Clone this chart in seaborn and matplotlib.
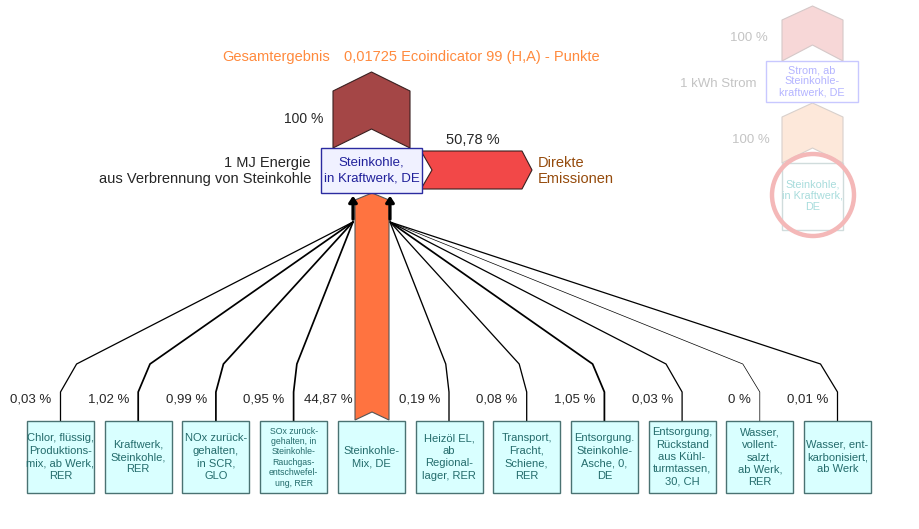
import matplotlib
matplotlib.use("Agg")
import matplotlib.pyplot as plt
from matplotlib.patches import Polygon, Rectangle, Circle
import seaborn as sns
import pandas as pd

# data
total_score = 0.01725
main_label = "Steinkohle,\nin Kraftwerk, DE"
main_pct = 100
direct_pct = 50.78
input_labels = [
    "Chlor, flüssig,\nProduktions-\nmix, ab Werk,\nRER",
    "Kraftwerk,\nSteinkohle,\nRER",
    "NOx zurück-\ngehalten,\nin SCR,\nGLO",
    "SOx zurück-\ngehalten, in\nSteinkohle-\nRauchgas-\nentschwefel-\nung, RER",
    "Steinkohle-\nMix, DE",
    "Heizöl EL,\nab\nRegional-\nlager, RER",
    "Transport,\nFracht,\nSchiene,\nRER",
    "Entsorgung.\nSteinkohle-\nAsche, 0,\nDE",
    "Entsorgung,\nRückstand\naus Kühl-\nturmtassen,\n30, CH",
    "Wasser,\nvollent-\nsalzt,\nab Werk,\nRER",
    "Wasser, ent-\nkarbonisiert,\nab Werk",
]
input_pct = [0.03, 1.02, 0.99, 0.95, 44.87, 0.19, 0.08, 1.05, 0.03, 0, 0.01]
main_input = 4  # Steinkohle-Mix, drawn as the big arrow


def fmt(v):
    return f"{v:g}".replace(".", ",") + " %"


sns.set_theme(style="white")
plt.rcParams["font.family"] = ["Liberation Sans", "DejaVu Sans"]

fig = plt.figure(figsize=(9.19, 5.29), dpi=100)
ax = fig.add_axes([0, 0, 1, 1])
ax.set_xlim(0, 919)
ax.set_ylim(529, 0)
ax.axis("off")

# title
ax.text(222, 57, "Gesamtergebnis", color="#FF8A3D", fontsize=10.5, va="center")
ax.text(344, 57, f"{total_score:g}".replace(".", ",") + " Ecoindicator 99 (H,A) - Punkte",
        color="#FF8A3D", fontsize=10.5, va="center")


def chevron(l, r, tip, sh, bot, notch, **kw):
    cx = (l + r) / 2
    return Polygon([(l, sh), (cx, tip), (r, sh), (r, bot), (cx, notch), (l, bot)],
                   closed=True, **kw)


# output arrow on top of the main process
ax.add_patch(chevron(333, 410, 72, 91, 148, 129, facecolor="#A44646",
                     edgecolor="#3a2020", lw=0.8, zorder=2))
ax.text(323, 119, fmt(main_pct), ha="right", va="center", fontsize=10)

# direct emissions arrow
ax.add_patch(Polygon([(421, 151), (522, 151), (532, 170), (522, 189), (421, 189), (432, 170)],
                     closed=True, facecolor="#F24848", edgecolor="#3a2020", lw=0.8, zorder=2))
ax.text(473, 140, fmt(direct_pct), ha="center", va="center", fontsize=10.5)
ax.text(538, 171, "Direkte\nEmissionen", color="#954B0C", fontsize=10.5, va="center",
        linespacing=1.25)

# main process box
ax.add_patch(Rectangle((321, 148), 101, 45, facecolor="#F0F1FF", edgecolor="#2B2BA0",
                       lw=1, zorder=3))
ax.text(371.5, 170.5, main_label, color="#20209A", fontsize=9.5, ha="center", va="center",
        linespacing=1.35, zorder=4)
ax.text(311, 171, "1 MJ Energie\naus Verbrennung von Steinkohle", ha="right", va="center",
        fontsize=10.5, linespacing=1.25)

# input boxes
box_w, box_top, box_bot = 67, 421, 493
step = 77.7
hub_l, hub_r = (353, 222), (390, 222)
rows = []
for i, (lab, p) in enumerate(zip(input_labels, input_pct)):
    x0 = 27 + step * i
    cx = x0 + box_w / 2
    ax.add_patch(Rectangle((x0, box_top), box_w, box_bot - box_top, facecolor="#D9FFFF",
                           edgecolor="#4A7272", lw=1, zorder=3))
    small = lab.count("\n") >= 5 and lab.startswith("SOx")
    fs = 6.3 if small else 8
    ax.text(cx, (box_top + box_bot) / 2, lab, color="#246C6C", fontsize=fs, ha="center",
            va="center", linespacing=1.2 if small else 1.3, zorder=4)
    if i == main_input:
        ax.text(353, 400, fmt(p), ha="right", va="center", fontsize=9.5)
        continue
    ax.text(cx - 9, 400, fmt(p), ha="right", va="center", fontsize=9.5)
    hx, hy = hub_l if i < main_input else hub_r
    dx = max(-17, min(17, 0.055 * (hx - cx)))
    pts = [(cx, box_top), (cx, 392), (cx + dx, 364), (hx, hy)]
    for k, (px, py) in enumerate(pts):
        rows.append({"box": i, "order": k, "x": px, "y": py, "pct": p})

links = pd.DataFrame(rows)
for i, grp in links.groupby("box"):
    p = grp["pct"].iloc[0]
    lw = 0.5 if p == 0 else 0.9 + 0.35 * min(p, 1.1)
    sns.lineplot(data=grp, x="x", y="y", sort=False, estimator=None, color="black",
                 lw=lw, ax=ax, legend=False, zorder=1)

# main input arrow (Steinkohle-Mix)
ax.add_patch(chevron(355, 389, 193, 200, 420, 412, facecolor="#FF7340",
                     edgecolor="#555555", lw=0.8, zorder=2))

# collector arrows into the main box
for hx, hy in (hub_l, hub_r):
    ax.annotate("", xy=(hx, 193), xytext=(hx, hy),
                arrowprops=dict(arrowstyle="-|>,head_width=0.2,head_length=0.3",
                                color="black", lw=2.3), zorder=3)

ax.set_xlabel("")
ax.set_ylabel("")

# faded context on the right
ax.add_patch(chevron(782, 843, 6, 20, 61, 45, facecolor="#F7D7D7", edgecolor="#D5C8C8",
                     lw=0.8, zorder=2))
ax.text(768, 38, "100 %", ha="right", va="center", fontsize=9.5, color="#C4C4C4")
ax.add_patch(Rectangle((766, 61), 92, 41, facecolor="white", edgecolor="#C8C8FF", lw=1,
                       zorder=3))
ax.text(812, 81.5, "Strom, ab\nSteinkohle-\nkraftwerk, DE", ha="center", va="center",
        fontsize=7.8, color="#B4B4FF", linespacing=1.15, zorder=4)
ax.text(756, 84, "1 kWh Strom", ha="right", va="center", fontsize=9.5, color="#C4C4C4")
ax.add_patch(chevron(782, 843, 103, 117, 163, 148, facecolor="#FDE8DA", edgecolor="#D8D0CC",
                     lw=0.8, zorder=2))
ax.text(770, 140, "100 %", ha="right", va="center", fontsize=9.5, color="#C4C4C4")
ax.add_patch(Rectangle((782, 163), 61, 67, facecolor="white", edgecolor="#D0DCDC", lw=1,
                       zorder=3))
ax.text(812.5, 196, "Steinkohle,\nin Kraftwerk,\nDE", ha="center", va="center",
        fontsize=7.8, color="#A8DCDC", linespacing=1.15, zorder=4)
ax.add_patch(Circle((813, 195), 41, facecolor="none", edgecolor="#F4B8B8", lw=3.2, zorder=5))

fig.savefig("out.png", dpi=100)
